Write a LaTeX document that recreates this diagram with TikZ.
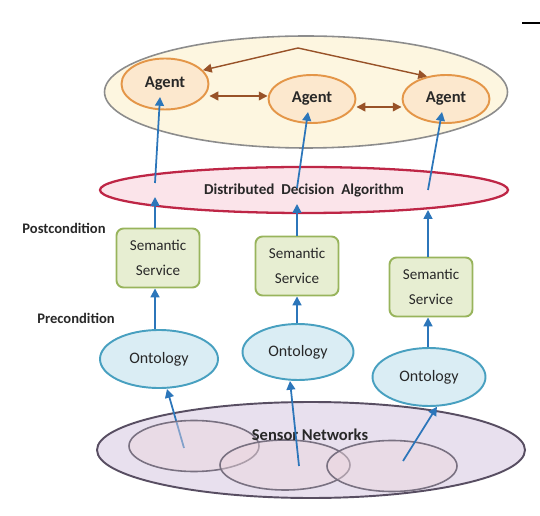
\documentclass[tikz,border=0pt]{standalone}
\usepackage{fontspec}
\setmainfont{Carlito}
\usetikzlibrary{positioning,arrows.meta,shapes.geometric}
\definecolor{creamfill}{RGB}{253,246,224}
\definecolor{cloudline}{RGB}{140,140,140}
\definecolor{agentfill}{RGB}{252,232,206}
\definecolor{agentline}{RGB}{228,150,72}
\definecolor{linkbrown}{RGB}{152,82,40}
\definecolor{algofill}{RGB}{251,228,234}
\definecolor{algoline}{RGB}{190,38,70}
\definecolor{servfill}{RGB}{231,238,210}
\definecolor{servline}{RGB}{152,180,92}
\definecolor{ontofill}{RGB}{218,237,244}
\definecolor{ontoline}{RGB}{72,160,192}
\definecolor{sensfill}{RGB}{232,224,238}
\definecolor{sensline}{RGB}{88,78,98}
\definecolor{cellfill}{RGB}{236,214,222}
\definecolor{flowblue}{RGB}{44,118,186}
\definecolor{inkdark}{RGB}{40,40,40}
\newcommand*{\pxlen}{0.02cm}

\tikzset{
  agentnode/.style={ellipse,draw=agentline,line width=1.1pt,fill=agentfill,
    minimum width=87*\pxlen,minimum height=51*\pxlen,inner sep=0pt,
    font=\fontsize{9.4}{11}\selectfont\bfseries,text=inkdark},
  servnode/.style={rectangle,rounded corners=4pt,draw=servline,line width=1.1pt,
    fill=servfill,minimum width=83*\pxlen,minimum height=59*\pxlen,inner sep=0pt,align=center,
    font=\fontsize{8.6}{14}\selectfont,text=inkdark},
  ontonode/.style={ellipse,draw=ontoline,line width=1.1pt,fill=ontofill,
    minimum width=114*\pxlen,minimum height=57*\pxlen,inner sep=0pt,
    font=\fontsize{9.1}{11}\selectfont,text=inkdark},
  cellnode/.style={ellipse,draw=sensline!80,line width=0.9pt,fill=cellfill,
    fill opacity=0.45,draw opacity=1,minimum width=130*\pxlen,minimum height=51*\pxlen,inner sep=0pt},
  sidelabel/.style={font=\fontsize{8.3}{10}\selectfont\bfseries,text=inkdark},
  upflow/.style={draw=flowblue,line width=1pt,-{Triangle[length=5pt,width=5pt]}},
  agentlink/.style={draw=linkbrown,line width=0.8pt,
    {Triangle[length=5pt,width=5pt]}-{Triangle[length=5pt,width=5pt]}}
}

\begin{document}
\begin{tikzpicture}[x=0.02cm,y=-0.02cm]
  \useasboundingbox (0,0) rectangle (540,516);

  % agent cloud on top
  \node[ellipse,draw=cloudline,line width=0.9pt,fill=creamfill,
        minimum width=403*\pxlen,minimum height=112*\pxlen,inner sep=0pt] (cloud) at (306,92) {};
  \node[agentnode] (agentA) at (165,84) {Agent};
  \node[agentnode,minimum height=48*\pxlen] (agentB) at (312,99) {Agent};
  \node[agentnode,minimum height=48*\pxlen] (agentC) at (446,99) {Agent};

  \coordinate (peak) at (298,48);
  \draw[agentlink] (agentA.20) -- (peak) -- (agentC.130);
  \draw[agentlink] (agentA.east |- 0,96) -- (agentB.west |- 0,96);
  \draw[agentlink] (agentB.east |- 0,107) -- (agentC.west |- 0,107);

  % decision layer
  \node[ellipse,draw=algoline,line width=1.3pt,fill=algofill,
        minimum width=408*\pxlen,minimum height=46*\pxlen,inner sep=0pt,
        font=\fontsize{8.6}{10}\selectfont\bfseries,text=inkdark] (algo) at (304,190)
        {Distributed\ \ Decision\ \ Algorithm};

  % services
  \node[servnode] (servA) at (158,258) {Semantic\\Service};
  \node[servnode] (servB) at (297,266) {Semantic\\Service};
  \node[servnode] (servC) at (431,287) {Semantic\\Service};

  \node[sidelabel] (post) at (64,228) {Postcondition};
  \node[sidelabel] (pre) at (76,318) {Precondition};

  % ontologies
  \node[ontonode,minimum width=118*\pxlen,minimum height=58*\pxlen] (ontoA) at (159,359) {Ontology};
  \node[ontonode,minimum width=111*\pxlen,minimum height=56*\pxlen] (ontoB) at (298,352) {Ontology};
  \node[ontonode,minimum width=113*\pxlen,minimum height=58*\pxlen] (ontoC) at (429,377) {Ontology};

  % sensor networks
  \node[ellipse,draw=sensline,line width=1.1pt,fill=sensfill,
        minimum width=428*\pxlen,minimum height=96*\pxlen,inner sep=0pt] (sensors) at (311,450) {};
  \coordinate (srcA) at (184,448);
  \draw[upflow] (srcA) -- (ontoA.south -| 167,0);
  \node[cellnode] (cellA) at (194,446) {};
  \node[cellnode,minimum height=50*\pxlen] (cellB) at (285,465) {};
  \node[cellnode] (cellC) at (392,466) {};
  \node[font=\fontsize{9.4}{11}\selectfont\bfseries,text=inkdark] (senslabel)
        at (310,435) {Sensor Networks};
  \coordinate (srcB) at (299,466);
  \coordinate (srcC) at (403,461);
  \draw[upflow] (srcB) -- (ontoB.south -| 290,0);
  \draw[upflow] (srcC) -- (ontoC.-75);

  % ontology to service
  \draw[upflow] (ontoA.north -| 155,0) -- (servA.south -| 155,0);
  \draw[upflow] (ontoB.north -| 297,0) -- (servB.south -| 297,0);
  \draw[upflow] (ontoC.north -| 428,0) -- (servC.south -| 428,0);

  % service to algorithm, algorithm to agents
  \coordinate (inA) at (155,197);
  \coordinate (inB) at (297,204);
  \coordinate (inC) at (428,210);
  \draw[upflow] (servA.north -| 155,0) -- (inA);
  \draw[upflow] (servB.north -| 297,0) -- (inB);
  \draw[upflow] (servC.north -| 428,0) -- (inC);
  \coordinate (outA) at (155,183);
  \coordinate (outB) at (297,188);
  \coordinate (outC) at (428,190);
  \draw[upflow] (outA) -- (160,97);
  \draw[upflow] (outB) -- (308,112);
  \draw[upflow] (outC) -- (442,112);

  % corner mark
  \coordinate (markL) at (522,23);
  \coordinate (markR) at (540,23);
  \draw[line width=1.4pt] (markL) -- (markR);
\end{tikzpicture}
\end{document}
